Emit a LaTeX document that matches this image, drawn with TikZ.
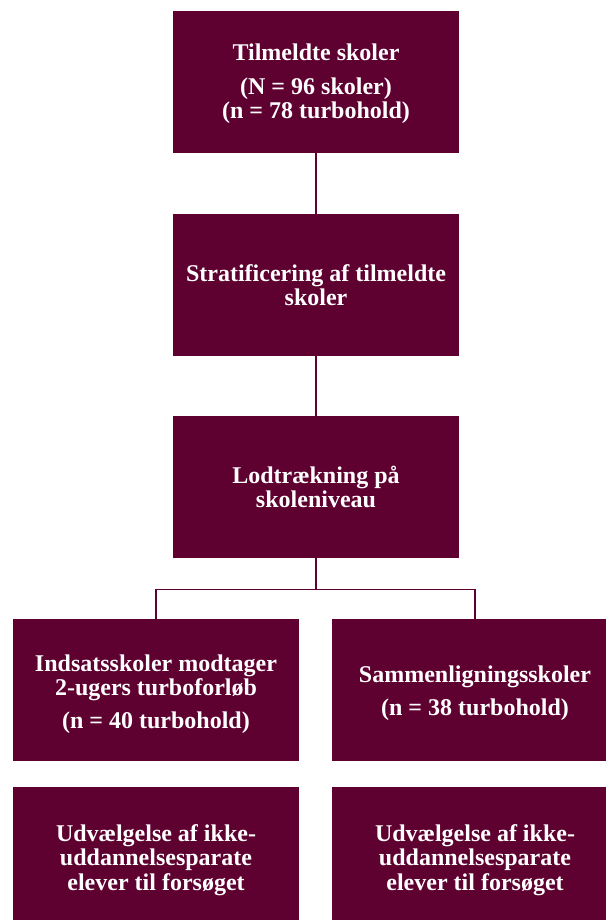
\documentclass[tikz,border=0pt]{standalone}
\usepackage{fontspec}
\setmainfont{Liberation Serif}
\usetikzlibrary{calc}
\definecolor{boxred}{RGB}{94,0,48}
\begin{document}
\begin{tikzpicture}[x=0.75pt,y=-0.75pt,
  box/.style={rectangle, fill=boxred, draw=none,
    inner sep=0pt, minimum width=214.5pt, minimum height=106.5pt},
  txt/.style={text=white, font=\bfseries\fontsize{18}{18.4}\selectfont,
    align=center, inner sep=0pt},
  conn/.style={draw=boxred, line width=0.9pt}]
\useasboundingbox (0,0) rectangle (606,920);
\clip (0,0) rectangle (606,920);
\node[box] (b1) at (316,82) {};
\node[box] (b2) at (316,285) {};
\node[box] (b3) at (316,487) {};
\node[box] (b4) at (156,690) {};
\node[box] (b5) at (475,690) {};
\node[box] (b6) at (156,858) {};
\node[box] (b7) at (475,858) {};
\node[txt, yshift=-1.5pt] (t1) at (b1) {Tilmeldte skoler\\[6.4pt](N = 96 skoler)\\(n = 78 turbohold)};
\node[txt] (t2) at (b2) {Stratificering af tilmeldte\\skoler};
\node[txt] (t3) at (b3) {Lodtrækning på\\skoleniveau};
\node[txt, yshift=-3pt] (t4) at (b4) {Indsatsskoler modtager\\2-ugers turboforløb\\[6pt](n = 40 turbohold)};
\node[txt, yshift=-2.25pt] (t5) at (b5) {Sammenligningsskoler\\[6.4pt](n = 38 turbohold)};
\node[txt, yshift=-1.5pt] (t6) at (b6) {Udvælgelse af ikke-\\uddannelsesparate\\elever til forsøget};
\node[txt, yshift=-1.5pt] (t7) at (b7) {Udvælgelse af ikke-\\uddannelsesparate\\elever til forsøget};
\draw[conn] (b1.south) -- (b2.north);
\draw[conn] (b2.south) -- (b3.north);
\coordinate (split) at ($(b3.south)+(0,31)$);
\draw[conn] (b3.south) -- (split) -| (b4.north);
\draw[conn] (split) -| (b5.north);
\end{tikzpicture}
\end{document}
